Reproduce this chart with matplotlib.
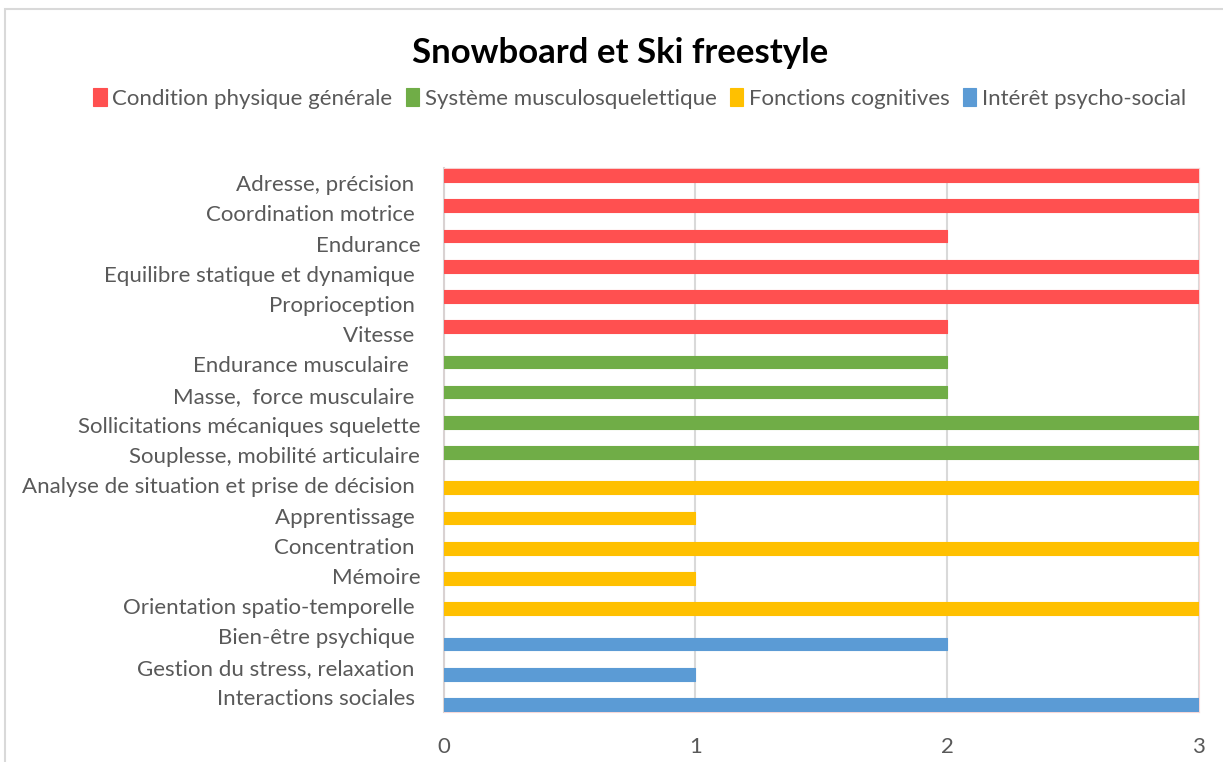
import numpy as np
import matplotlib.pyplot as plt
from matplotlib.patches import Rectangle

plt.rcParams['font.family'] = ['Lato', 'DejaVu Sans']

series = ['Condition physique générale', 'Système musculosquelettique',
          'Fonctions cognitives', 'Intérêt psycho-social']
colors = ['#FF5050', '#70AD47', '#FFC000', '#5B9BD5']

labels_physique = ['Adresse, précision ', 'Coordination motrice ', 'Endurance',
                   'Equilibre statique et dynamique ', 'Proprioception ', 'Vitesse ']
values_physique = [3, 3, 2, 3, 3, 2]

labels_muscle = ['Endurance musculaire  ', 'Masse,  force musculaire ',
                 'Sollicitations mécaniques squelette', 'Souplesse, mobilité articulaire']
values_muscle = [2, 2, 3, 3]

labels_cognitif = ['Analyse de situation et prise de décision ', 'Apprentissage ',
                   'Concentration ', 'Mémoire', 'Orientation spatio-temporelle ']
values_cognitif = [3, 1, 3, 1, 3]

labels_social = ['Bien-être psychique ', 'Gestion du stress, relaxation ',
                 'Interactions sociales ']
values_social = [2, 1, 3]

groups = [(labels_physique, values_physique), (labels_muscle, values_muscle),
          (labels_cognitif, values_cognitif), (labels_social, values_social)]

# position of each series inside a category slot (clustered bars, overlapped)
offsets = [-0.25, -0.083, 0.083, 0.25]
bar_h = 0.42

fig = plt.figure(figsize=(12.23, 7.62), dpi=100)
ax = fig.add_axes([0.363, 0.0656, 0.617, 0.714])

all_labels = []
pos = 0
for k, (labs, vals) in enumerate(groups):
    y = np.arange(pos, pos + len(labs)) + offsets[k]
    ax.barh(y, vals, height=bar_h, color=colors[k], edgecolor=colors[k],
            linewidth=0.8, joinstyle='round', label=series[k], zorder=3)
    all_labels += labs
    pos += len(labs)

n = len(all_labels)
ax.set_ylim(n - 0.5, -0.5)
ax.set_xlim(0, 3)
ax.set_yticks(np.arange(n))
ax.set_yticklabels(all_labels, fontsize=16, color='#595959')
ax.set_xticks([0, 1, 2, 3])
ax.set_xticklabels(['0', '1', '2', '3'], fontsize=16, color='#595959')
ax.tick_params(axis='y', length=0, pad=17)
ax.tick_params(axis='x', length=0, pad=18)
ax.xaxis.grid(True, color='#d9d9d9', linewidth=1.5, zorder=0)
ax.set_axisbelow(True)
for s in ['top', 'right', 'bottom']:
    ax.spines[s].set_color('#f6d8d8')
ax.spines['left'].set_color('#d9d2d2')
ax.spines['left'].set_linewidth(1.5)

# legend row
leg = fig.legend(loc='center', bbox_to_anchor=(0.523, 0.871), ncol=4, frameon=False,
                 fontsize=16, handlelength=0.6, handleheight=0.85,
                 handletextpad=0.25, columnspacing=0.6)
for t in leg.get_texts():
    t.set_color('#595959')

fig.text(0.507, 0.931, 'Snowboard et Ski freestyle', ha='center', va='center',
         fontsize=25, fontweight='bold', color='black')

# chart area border
fig.patches.append(Rectangle((0.004, -0.05), 1.1, 1.038, transform=fig.transFigure,
                             fill=False, edgecolor='#d9d9d9', linewidth=1.5))

fig.savefig('out.png', dpi=100)
